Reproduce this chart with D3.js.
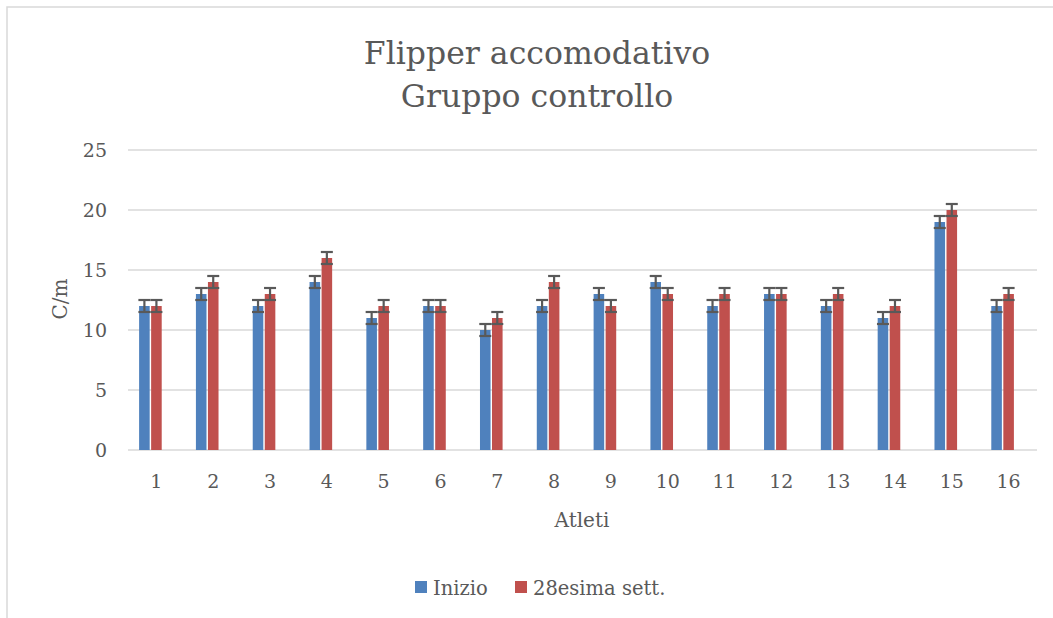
<!DOCTYPE html>
<html>
<head>
<meta charset="utf-8">
<script src="https://cdn.jsdelivr.net/npm/d3@7"></script>
<style>
  body { margin: 0; background: #fff; }
  svg text { font-family: "DejaVu Serif", "Liberation Serif", serif; fill: #595959; }
</style>
</head>
<body>
<svg id="chart" width="1053" height="618"></svg>
<script>
const atleti = ["1","2","3","4","5","6","7","8","9","10","11","12","13","14","15","16"];
const inizio = [12,13,12,14,11,12,10,12,13,14,12,13,12,11,19,12];
const settimana28 = [12,14,13,16,12,12,11,14,12,13,13,13,13,12,20,13];
const errore = 0.5;
const y_ticks = [0,5,10,15,20,25];
const serie_nomi = ["Inizio", "28esima sett."];
const colori = ["#4F81BD", "#C0504D"];

let svg = d3.select("#chart");

// chart frame
svg.append("rect")
  .attr("x", 7).attr("y", 7)
  .attr("width", 1100).attr("height", 700)
  .style("fill", "none").style("stroke", "#d9d9d9").style("stroke-width", 1.5);

let x = d3.scaleBand().domain(atleti).range([128, 1037]);
let y = d3.scaleLinear().domain([0, 25]).range([450, 150]);
let x_inner = d3.scaleBand().domain([0, 1]).range([0, 22.6]).paddingInner(0.12);

// grid
svg.append("g").selectAll("line").data(y_ticks).join("line")
  .attr("x1", 128).attr("x2", 1037)
  .attr("y1", (d) => y(d)).attr("y2", (d) => y(d))
  .style("stroke", "#d9d9d9").style("stroke-width", 1.5);

// y labels
svg.append("g").selectAll("text").data(y_ticks).join("text")
  .attr("x", 107).attr("y", (d) => y(d) + 7)
  .attr("text-anchor", "end")
  .style("font-size", "19px")
  .text((d) => d);

// x labels
svg.append("g").selectAll("text").data(atleti).join("text")
  .attr("x", (d) => x(d) + x.bandwidth() / 2).attr("y", 488)
  .attr("text-anchor", "middle")
  .style("font-size", "19px")
  .text((d) => d);

// bars
[inizio, settimana28].forEach((serie, s) => {
  let g = svg.append("g");
  let off = (d, i) => x(atleti[i]) + x.bandwidth() / 2 - 6 - 11.3 + x_inner(s);
  g.selectAll("rect").data(serie).join("rect")
    .attr("x", off)
    .attr("y", (d) => y(d))
    .attr("width", x_inner.bandwidth())
    .attr("height", (d) => y(0) - y(d))
    .style("fill", colori[s]);

  // error bars
  let cx = (d, i) => off(d, i) + x_inner.bandwidth() / 2;
  let eb = g.selectAll("g.err").data(serie).join("g").attr("class", "err");
  eb.append("line")
    .attr("x1", cx).attr("x2", cx)
    .attr("y1", (d) => y(d + errore)).attr("y2", (d) => y(d - errore));
  eb.append("line")
    .attr("x1", (d, i) => cx(d, i) - 6).attr("x2", (d, i) => cx(d, i) + 6)
    .attr("y1", (d) => y(d + errore)).attr("y2", (d) => y(d + errore));
  eb.append("line")
    .attr("x1", (d, i) => cx(d, i) - 6).attr("x2", (d, i) => cx(d, i) + 6)
    .attr("y1", (d) => y(d - errore)).attr("y2", (d) => y(d - errore));
  eb.selectAll("line").style("stroke", "#595959").style("stroke-width", 2.2);
});

// title
svg.append("text").attr("x", 537).attr("y", 64).attr("text-anchor", "middle")
  .style("font-size", "31.5px").text("Flipper accomodativo");
svg.append("text").attr("x", 537).attr("y", 107).attr("text-anchor", "middle")
  .style("font-size", "31.5px").text("Gruppo controllo");

// axis titles
svg.append("text").attr("x", 582).attr("y", 527).attr("text-anchor", "middle")
  .style("font-size", "20px").text("Atleti");
svg.append("text").attr("transform", "translate(67,299) rotate(-90)")
  .attr("text-anchor", "middle")
  .style("font-size", "20px").text("C/m");

// legend
let legend_x = [415, 515];
serie_nomi.forEach((nome, i) => {
  svg.append("rect").attr("x", legend_x[i]).attr("y", 581)
    .attr("width", 12).attr("height", 12).style("fill", colori[i]);
  svg.append("text").attr("x", legend_x[i] + 18).attr("y", 595)
    .style("font-size", "19.5px").text(nome);
});
</script>
</body>
</html>
